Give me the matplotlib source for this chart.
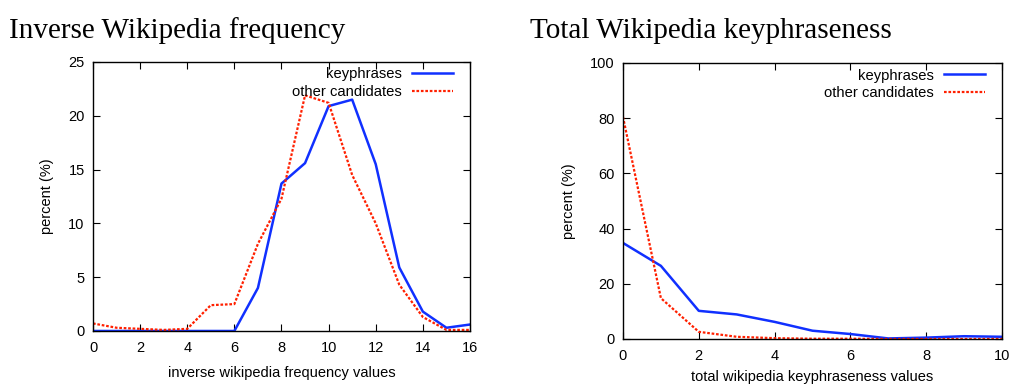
import numpy as np
import matplotlib
matplotlib.use("Agg")
import matplotlib.pyplot as plt

plt.rcParams['font.family'] = ['Liberation Sans', 'DejaVu Sans']

# inverse wikipedia frequency
iwf_x = list(range(0, 17))
iwf_key = [0, 0, 0, 0, 0, 0, 0, 4.0, 13.7, 15.6, 20.9, 21.5, 15.5, 5.9, 1.8, 0.3, 0.6]
iwf_other = [0.7, 0.3, 0.2, 0.1, 0.2, 2.4, 2.5, 8.1, 12.3, 21.9, 21.2, 14.5, 10.0, 4.3, 1.3, 0.1, 0.1]

# total wikipedia keyphraseness
twk_x = list(range(0, 11))
twk_key = [34.8, 26.5, 10.2, 8.9, 6.2, 3.0, 1.8, 0.2, 0.5, 1.0, 0.8]
twk_other = [80.5, 14.8, 2.6, 0.8, 0.3, 0.1, 0.1, 0.0, 0.0, 0.0, 0.0]

fig = plt.figure(figsize=(10.12, 3.85), dpi=100)
ax1 = fig.add_axes([0.0919, 0.1403, 0.3725, 0.6987])
ax2 = fig.add_axes([0.6156, 0.1195, 0.3745, 0.7169])

def style(ax, x, key, other, xlabel, xmax, ymax, yticks, xlpad):
    ax.plot(x, key, color='#1030ff', lw=1.8, label='keyphrases')
    ax.plot(x, other, color='#ff2000', lw=1.6, ls=(0, (1.2, 0.8)), label='other candidates')
    ax.set_xlim(0, xmax)
    ax.set_ylim(0, ymax)
    ax.set_xticks(range(0, xmax + 1, 2))
    ax.set_yticks(yticks)
    ax.tick_params(direction='in', top=True, right=True, labelsize=10.5, length=5)
    ax.tick_params(axis='x', pad=7)
    ax.tick_params(axis='y', pad=6)
    ax.set_xlabel(xlabel, fontsize=10.5, labelpad=xlpad)
    ax.set_ylabel('percent (%)', fontsize=10.5, labelpad=10)
    for s in ax.spines.values():
        s.set_linewidth(1.0)
    ax.legend(loc='upper right', bbox_to_anchor=(0.955, 0.98), frameon=False, fontsize=10.6,
              markerfirst=False, handlelength=2.8, labelspacing=0.25, borderaxespad=0,
              borderpad=0, handletextpad=0.65)

style(ax1, iwf_x, iwf_key, iwf_other, 'inverse wikipedia frequency values', 16, 25, range(0, 26, 5), 8)
style(ax2, twk_x, twk_key, twk_other, 'total wikipedia keyphraseness values', 10, 100, range(0, 101, 20), 5)

fig.text(0.009, 0.901, 'Inverse Wikipedia frequency', family='Liberation Serif', fontsize=21, va='baseline')
fig.text(0.524, 0.901, 'Total Wikipedia keyphraseness', family='Liberation Serif', fontsize=21, va='baseline')

fig.savefig('out.png', dpi=100)
